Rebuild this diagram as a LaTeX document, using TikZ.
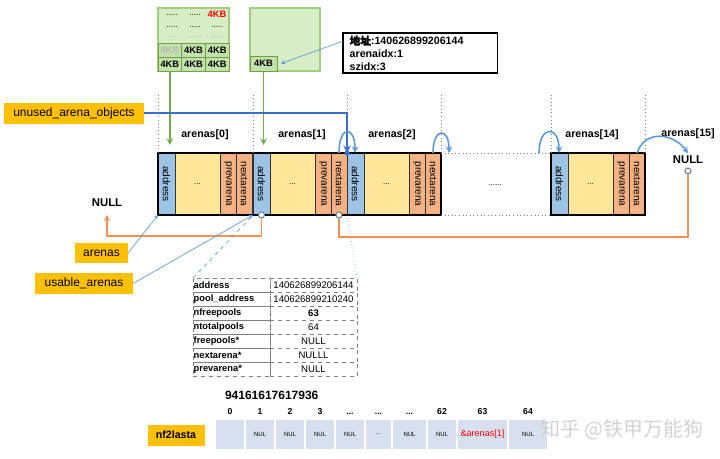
\documentclass[tikz,border=0pt]{standalone}
\usepackage{fontspec}
\setmainfont{Liberation Sans}
\newfontfamily\cjk{Noto Sans CJK SC}
\newfontfamily\cjkbold{Noto Sans CJK SC}[FakeBold=2]
\usetikzlibrary{calc}

\newcommand{\fsz}[1]{\fontsize{#1}{#1}\selectfont}
\newcommand{\ddd}{...}

\definecolor{gold}{RGB}{255,192,0}
\definecolor{addrblue}{RGB}{157,195,230}
\definecolor{bodyyellow}{RGB}{255,230,153}
\definecolor{ptrorange}{RGB}{244,177,131}
\definecolor{poolfill}{RGB}{215,237,198}
\definecolor{poolline}{RGB}{160,205,128}
\definecolor{pagefill}{RGB}{195,226,170}
\definecolor{pageline}{RGB}{112,160,70}
\definecolor{arrowgreen}{RGB}{112,173,71}
\definecolor{ptrblue}{RGB}{60,110,200}
\definecolor{arcblue}{RGB}{91,155,213}
\definecolor{linkorange}{RGB}{237,145,85}
\definecolor{portgray}{RGB}{110,130,150}
\definecolor{cellblue}{RGB}{214,224,238}

\begin{document}
\begin{tikzpicture}[
    x=0.75pt, y=-0.75pt,
    every node/.style={inner sep=0pt, outer sep=0pt},
    addrcell/.style={draw=black!80, line width=0.5pt, fill=addrblue, minimum width=12.75pt, minimum height=46.5pt, anchor=north west},
    bodycell/.style={addrcell, fill=bodyyellow, minimum width=33.75pt},
    ptrcell/.style={addrcell, fill=ptrorange, minimum width=12pt},
    vtext/.style={rotate=-90, font=\fsz{7.5}},
    arenalabel/.style={font=\fsz{8}\bfseries},
    nulltext/.style={font=\fsz{8.5}\bfseries},
    goldbox/.style={fill=gold, minimum height=15.75pt, font=\fsz{9}},
    poolbox/.style={draw=poolline, fill=poolfill, line width=0.8pt, minimum width=53.25pt, minimum height=47.25pt, anchor=north west},
    pagecell/.style={draw=pageline, fill=pagefill, line width=0.5pt, minimum width=17.75pt, minimum height=10.5pt, anchor=south west, font=\fsz{7}\bfseries},
    dots/.style={font=\fsz{6}},
    infobox/.style={draw, line width=1.1pt, anchor=north west, align=left, inner xsep=5pt, inner ysep=2pt, text width=106pt, font=\fontsize{8}{9.6}\selectfont\bfseries},
    keycell/.style={draw=gray, dashed, line width=0.4pt, minimum width=57.75pt, minimum height=10.6pt, anchor=north west, inner xsep=0.5pt, text width=56.75pt, align=left, font=\fsz{7}\bfseries},
    valcell/.style={keycell, minimum width=65.25pt, text width=64.25pt, align=center, font=\fsz{7.2}},
    arraycell/.style={fill=cellblue, draw=white, line width=1pt, minimum height=23.25pt, anchor=north west, font=\fsz{4.5}},
    idx/.style={font=\fsz{6.5}\bfseries, text height=4.7pt, text depth=0pt},
    portdot/.style={circle, draw=portgray, fill=white, line width=0.8pt, minimum size=4.5pt},
    guide/.style={dotted, draw=gray, line width=0.7pt},
    greenarrow/.style={->, >=stealth, draw=arrowgreen, line width=1.2pt},
    ptrarrow/.style={->, >=stealth, draw=ptrblue, line width=1.5pt},
    arcarrow/.style={->, >=stealth, draw=arcblue, line width=1.2pt},
    thinarrow/.style={->, >=stealth, draw=arcblue, line width=0.5pt},
    zoomline/.style={dashed, draw=arcblue, line width=0.5pt},
    orangearrow/.style={->, >=stealth, draw=linkorange, line width=1.1pt},
    orangeline/.style={draw=linkorange, line width=1.1pt}
]
\useasboundingbox (0,0) rectangle (720,458);

% -------------------------
% Pools (top)
% -------------------------
    \node[poolbox] (pool0) at (158,8) {};
    \node[pagecell] (pg10) at (pool0.south west) {4KB};
    \node[pagecell] (pg11) at (pg10.south east) {4KB};
    \node[pagecell] (pg12) at (pg11.south east) {4KB};
    \node[pagecell, text=gray!55] (pg00) at (pg10.north west) {4KB};
    \node[pagecell] (pg01) at (pg00.south east) {4KB};
    \node[pagecell] (pg02) at (pg01.south east) {4KB};
    \node[dots] at (172,15) {.....};
    \node[dots] at (195,15) {.....};
    \node[font=\fsz{7}\bfseries, text=red] at (217,14) {4KB};
    \node[dots] at (172,27) {.....};
    \node[dots] at (195,27) {.....};
    \node[dots] at (217,27) {.....};
    \node[dots, text=gray!60] at (172,37) {......};
    \node[dots, text=gray!60] at (195,37) {......};
    \node[dots, text=gray!60] at (217,37) {......};

    \node[poolbox, minimum width=52.5pt] (pool1) at (250,8) {};
    \node[pagecell, minimum width=20.25pt, minimum height=11.25pt] (pg2) at (pool1.south west) {4KB};

    % pool header
    \node[infobox] (info) at (343,33) {{\cjkbold 地址}:140626899206144\\arenaidx:1\\szidx:3};
    \draw[thinarrow] ([yshift=9pt]info.west) -- ([xshift=3pt]pg2.east);

% -------------------------
% Arenas row
% -------------------------
    \foreach \i/\x/\lx in {0/158/205, 1/253/302, 2/347/392, 14/551/592}{
        \node[addrcell] (a\i-addr) at (\x,153) {};
        \node[bodycell] (a\i-body) at (a\i-addr.north east) {};
        \node[ptrcell] (a\i-prev) at (a\i-body.north east) {};
        \node[ptrcell] (a\i-next) at (a\i-prev.north east) {};
        \node[vtext] at (a\i-addr) {address};
        \node[dots] at (a\i-body) {\ddd};
        \node[vtext] at (a\i-prev) {prevarena};
        \node[vtext] at (a\i-next) {nextarena};
        \node[arenalabel] (lab\i) at (\lx,135) {arenas[\i]};
    }
    \draw[line width=1.5pt] (a0-addr.north west) rectangle (a2-next.south east);
    \draw[line width=1.5pt] (a14-addr.north west) rectangle (a14-next.south east);
    \node[dots] (gap) at (495,185) {......};
    \node[arenalabel] (lab15) at (688,134) {arenas[15]};
    \node[nulltext] (null15) at (688,160) {NULL};

    % dotted guides
    \foreach \c in {a0-addr.north west, a1-addr.north west, a1-next.north east, a2-next.north east, a14-addr.north west, a14-next.north east}
        \draw[guide] (\c) -- ++(0,-58);
    \draw[guide] (a2-next.north east) -- (a14-addr.north west);
    \draw[guide] (a2-next.south east) -- (a14-addr.south west);

    % pools into arenas
    \draw[greenarrow] (pg10.south) -- ++(0,74);
    \draw[greenarrow] (pg2.south) -- ++(0,74);

% -------------------------
% Left labels
% -------------------------
    \node[goldbox, minimum width=105pt] (unused) at (74,113) {unused\_arena\_objects};
    \node[goldbox, minimum width=39.75pt, minimum height=15pt] (arenasL) at (101.5,253) {arenas};
    \node[goldbox, minimum width=73.5pt] (usable) at (84,283.5) {usable\_arenas};
    \node[nulltext] (nullL) at (107,203) {NULL};

% -------------------------
% Links
% -------------------------
    \draw[ptrarrow] (unused.east) -| (a1-next.north east);
    \fill[ptrblue] (a1-next.north east) circle[radius=2pt];
    \draw[arcarrow] ([shift={(-8,0)}]a1-next.north east) .. controls +(0,-28) and +(0,-28) .. ([shift={(8,0)}]a1-next.north east);
    \draw[arcarrow] ([shift={(-8,0)}]a2-next.north east) .. controls +(0,-26) and +(0,-26) .. ([shift={(8,0)}]a2-next.north east);
    \draw[arcarrow] ([shift={(-12,0)}]a14-addr.north west) .. controls +(0,-28) and +(0,-28) .. ([shift={(8,0)}]a14-addr.north west);
    \draw[arcarrow] (a14-next.north) .. controls +(8,-24) and +(-14,-20) .. ([yshift=2pt]null15.north);

    \node[portdot] (p1) at (a1-addr.south) {};
    \node[portdot] (p2) at (a1-next.south) {};
    \node[portdot] (p15) at (688,171) {};
    \draw[orangearrow] (p1.south) -- ++(0,18) -| ([shift={(0,8)}]nullL.south);
    \draw[orangeline] (p2.south) -- ++(0,19) -| (p15.south);

    \draw[thinarrow] (arenasL.east) -- (a0-addr.south west);
    \draw[thinarrow] (usable.east) -- (a1-addr.south west);

% -------------------------
% arenas[1] fields
% -------------------------
    \foreach \k/\v [count=\r from 0] in {address/140626899206144, pool\_address/140626899210240, nfreepools/\textbf{63}, ntotalpools/64, freepools*/NULL, nextarena*/NULLL, prevarena*/NULL}{
        \node[keycell] (k\r) at (193,278+14.1*\r) {\k};
        \node[valcell] (v\r) at (k\r.north east) {\v};
    }
    \draw[zoomline] (k0.north west) -- (a1-addr.south west);
    \draw[zoomline, dotted] (v0.north east) -- (a2-addr.south west);

% -------------------------
% nf2lasta
% -------------------------
    \node[font=\fsz{9}\bfseries, anchor=west] (addrnum) at (225,395) {94161617617936};
    \node[goldbox, minimum width=42.75pt, font=\fsz{8}\bfseries] (nf2) at (176,435) {nf2lasta};
    \foreach \l/\t/\x/\w in {0//215/30, 1/NUL/245/30, 2/NUL/275/30, 3/NUL/305/30, \ddd/NUL/335/30, \ddd/\ddd/365/27, \ddd/NUL/392/35, 62/NUL/427/30, 63/{\fsz{6.8}\textcolor{red}{\&arenas[1]}}/457/51, 64/NUL/508/40}{
        \node[arraycell, minimum width=\w*0.75pt] (cell\x) at (\x,419) {\t};
        \node[idx] at ($(cell\x.north)+(0,-8)$) {\l};
    }

    \node[font=\cjk\fsz{15}, text=gray!35] (mark) at (622,430) {知乎 @铁甲万能狗};
\end{tikzpicture}
\end{document}
